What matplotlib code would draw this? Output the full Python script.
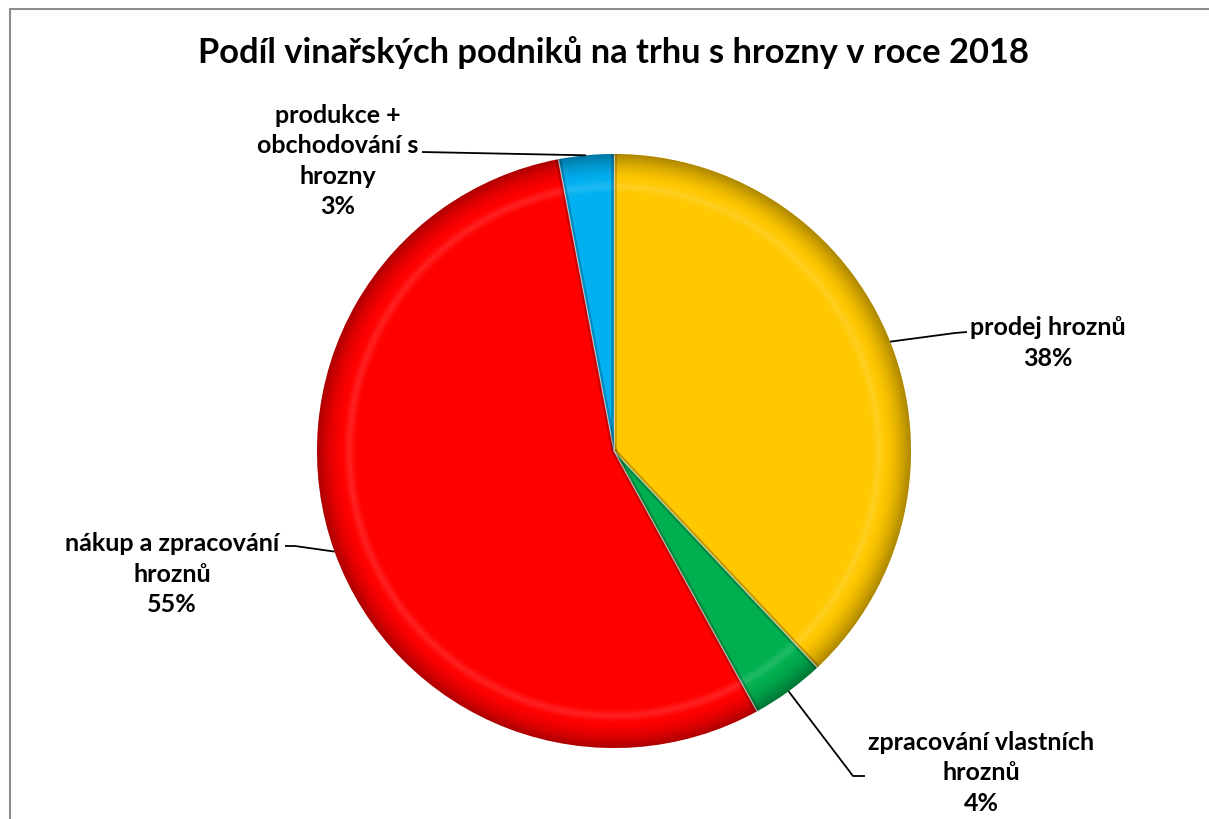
import numpy as np
import matplotlib.pyplot as plt
from matplotlib.patches import Rectangle

# data
labels = ['prodej hroznů', 'zpracování vlastních\nhroznů', 'nákup a zpracování\nhroznů', 'produkce +\nobchodování s\nhrozny']
shares = [38, 4, 55, 3]
colors = ['#FFC800', '#00B050', '#FF0000', '#00B0F0']
title = 'Podíl vinařských podniků na trhu s hrozny v roce 2018'

plt.rcParams['font.family'] = ['Lato', 'DejaVu Sans']

W, H = 1209, 819
fig = plt.figure(figsize=(W / 100, H / 100), dpi=100)

# pie centre and radius in pixels
cx, cy, R = 614, 451, 297
ax = fig.add_axes([(cx - R) / W, (H - cy - R) / H, 2 * R / W, 2 * R / H])

wedges, _ = ax.pie(shares, colors=colors, startangle=90, counterclock=False, radius=1,
                   wedgeprops=dict(edgecolor='none'))

# fake bevel: darken outer rim, slight highlight inside it
n = 14
for k in range(n):
    r_out = 1 - k * 0.006
    a = 0.32 * (1 - k / n) ** 1.5
    ax.pie(shares, startangle=90, counterclock=False, radius=r_out,
           wedgeprops=dict(width=0.006, facecolor=(0, 0, 0, a), edgecolor='none'))
for k in range(8):
    r_out = 0.915 - k * 0.006
    a = 0.14 * (1 - abs(k - 3.5) / 4)
    ax.pie(shares, startangle=90, counterclock=False, radius=r_out,
           wedgeprops=dict(width=0.006, facecolor=(1, 1, 1, a), edgecolor='none'))

# shading along the slice boundaries
for w in wedges:
    t = np.deg2rad(w.theta1)
    ax.plot([0, np.cos(t)], [0, np.sin(t)], color=(0, 0, 0, 0.22), lw=4, solid_capstyle='butt')
    ax.plot([0, np.cos(t)], [0, np.sin(t)], color=(1, 1, 1, 0.55), lw=0.9, solid_capstyle='butt')

ax.set_xlim(-1, 1)
ax.set_ylim(-1, 1)
ax.set_aspect('equal')
ax.axis('off')

# mid angles of the wedges
mids = []
for w in wedges:
    mids.append(np.deg2rad((w.theta1 + w.theta2) / 2))

def px(x, y):
    return (x - cx) / R, (cy - y) / R

# label centres, leader elbows (pixels)
label_pos = [(1048, 343), (981, 773), (172, 574), (338, 161)]
elbows = [[(955, 333), (967, 332)],
          [(853, 776), (865, 776)],
          [(295, 546), (285, 546)],
          [(422, 152)]]

for i in range(4):
    t = mids[i]
    x0, y0 = np.cos(t), np.sin(t)
    pts = [(x0, y0)] + [px(*e) for e in elbows[i]]
    xs, ys = zip(*pts)
    ax.plot(xs, ys, color='black', lw=1.3, clip_on=False, solid_capstyle='butt')
    lx, ly = px(*label_pos[i])
    ax.text(lx, ly, f'{labels[i]}\n{shares[i]}%', ha='center', va='center',
            fontsize=18, fontweight='bold', linespacing=1.4, clip_on=False)

fig.text(614 / W, 1 - 53 / H, title, ha='center', va='center', fontsize=24.8, fontweight='bold')

# chart frame
fig.patches.append(Rectangle((10 / W, -0.05), 1.2, 1 - 9 / H + 0.05, transform=fig.transFigure,
                             fill=False, edgecolor='#8c8c8c', linewidth=1.5))

fig.savefig('out.png', dpi=100)
